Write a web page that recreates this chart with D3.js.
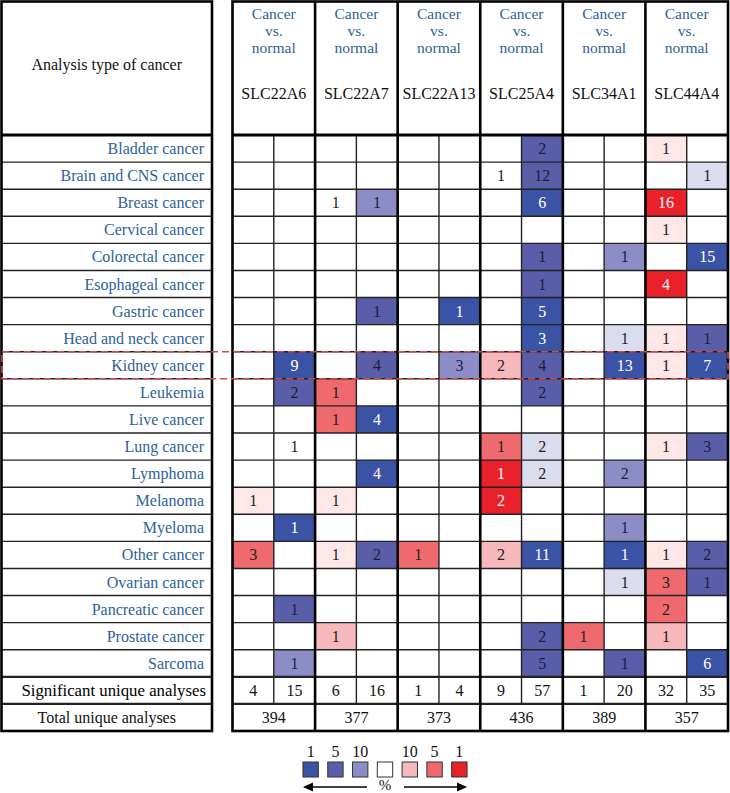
<!DOCTYPE html>
<html>
<head>
<meta charset="utf-8">
<script src="https://cdn.jsdelivr.net/npm/d3@7"></script>
<style>
  body { margin: 0; background: #fff; }
  text { font-family: "Liberation Serif", "DejaVu Serif", serif; }
</style>
</head>
<body>
<svg></svg>
<script>
const W = 730, H = 793
const genes = ["SLC22A6", "SLC22A7", "SLC22A13", "SLC25A4", "SLC34A1", "SLC44A4"]
const cancers = ["Bladder cancer", "Brain and CNS cancer", "Breast cancer", "Cervical cancer",
  "Colorectal cancer", "Esophageal cancer", "Gastric cancer", "Head and neck cancer",
  "Kidney cancer", "Leukemia", "Live cancer", "Lung cancer", "Lymphoma", "Melanoma",
  "Myeloma", "Other cancer", "Ovarian cancer", "Pancreatic cancer", "Prostate cancer", "Sarcoma"]
const highlight = "Kidney cancer"

// 12 columns per row: [gene1 over, gene1 under, gene2 over, ...]; cell = [count, grade]
const _ = null
const cells = [
  [_, _, _, _, _, _, _, [2,"b5"], _, _, [1,"r25"], _],
  [_, _, _, _, _, _, [1,"w"], [12,"b5"], _, _, _, [1,"b25"]],
  [_, _, [1,"w"], [1,"b10"], _, _, _, [6,"b1"], _, _, [16,"r1"], _],
  [_, _, _, _, _, _, _, _, _, _, [1,"r25"], _],
  [_, _, _, _, _, _, _, [1,"b5"], _, [1,"b10"], _, [15,"b1"]],
  [_, _, _, _, _, _, _, [1,"b5"], _, _, [4,"r1"], _],
  [_, _, _, [1,"b5"], _, [1,"b1"], _, [5,"b1"], _, _, _, _],
  [_, _, _, _, _, _, _, [3,"b1"], _, [1,"b25"], [1,"r25"], [1,"b5"]],
  [_, [9,"b1"], _, [4,"b5"], _, [3,"b10"], [2,"r10"], [4,"b5"], _, [13,"b1"], [1,"r25"], [7,"b1"]],
  [_, [2,"b5"], [1,"r5"], _, _, _, _, [2,"b5"], _, _, _, _],
  [_, _, [1,"r5"], [4,"b1"], _, _, _, _, _, _, _, _],
  [_, [1,"w"], _, _, _, _, [1,"r5"], [2,"b25"], _, _, [1,"r25"], [3,"b5"]],
  [_, _, _, [4,"b1"], _, _, [1,"r1"], [2,"b25"], _, [2,"b10"], _, _],
  [[1,"r25"], _, [1,"r25"], _, _, _, [2,"r1"], _, _, _, _, _],
  [_, [1,"b1"], _, _, _, _, _, _, _, [1,"b10"], _, _],
  [[3,"r5"], _, [1,"r25"], [2,"b5"], [1,"r5"], _, [2,"r10"], [11,"b1"], _, [1,"b1"], [1,"r25"], [2,"b5"]],
  [_, _, _, _, _, _, _, _, _, [1,"b25"], [3,"r5"], [1,"b5"]],
  [_, [1,"b5"], _, _, _, _, _, _, _, _, [2,"r5"], _],
  [_, _, [1,"r10"], _, _, _, _, [2,"b5"], [1,"r5"], _, [1,"r10"], _],
  [_, [1,"b10"], _, _, _, _, _, [5,"b5"], _, [1,"b5"], _, [6,"b1"]]
]
const significant = [4, 15, 6, 16, 1, 4, 9, 57, 1, 20, 32, 35]
const total = [394, 377, 373, 436, 389, 357]
const legendGrades = ["b1", "b5", "b10", "w", "r10", "r5", "r1"]
const legendLabels = ["1", "5", "10", "", "10", "5", "1"]

const grades = ["w", "b1", "b5", "b10", "b25", "r1", "r5", "r10", "r25"]
const fill = d3.scaleOrdinal(grades,
  ["#ffffff", "#3a53a4", "#5a5ea9", "#8c8dc7", "#dcdcef", "#e8212a", "#ee6a6e", "#f7b8bc", "#fde7e7"])
const ink = d3.scaleOrdinal(grades,
  ["#222", "#ffffff", "#1d1d3a", "#1d1d3a", "#222", "#ffffff", "#222", "#222", "#222"])
const blueText = "#2d6299"
const fs = 16

const svg = d3.select("svg").attr("width", W).attr("height", H)

const left = { x0: 1.5, x1: 212 }
const right = { x0: 232.5, x1: 728 }
const headTop = 1.5, headBottom = 135
const rowKeys = [...cancers, "sig", "total"]
const y = d3.scaleBand(rowKeys, [headBottom, 731])
const colKeys = d3.range(12)
const x = d3.scaleBand(colKeys, [right.x0, right.x1])
const xg = d3.scaleBand(genes, [right.x0, right.x1])
const mid = r => y(r) + y.bandwidth() / 2 + 5.5

// cell fills
cancers.forEach((c, i) => {
  cells[i].forEach((cell, j) => {
    if (!cell) return
    svg.append("rect")
      .attr("x", x(j)).attr("y", y(c))
      .attr("width", x.bandwidth()).attr("height", y.bandwidth())
      .attr("fill", fill(cell[1]))
    svg.append("text")
      .attr("x", x(j) + x.bandwidth() / 2).attr("y", mid(c))
      .attr("text-anchor", "middle").attr("font-size", fs)
      .attr("fill", ink(cell[1]))
      .text(cell[0])
  })
})

let line = (x1, y1, x2, y2, w, color) => {
  svg.append("line")
    .attr("x1", x1).attr("y1", y1).attr("x2", x2).attr("y2", y2)
    .attr("stroke", color || "#222").attr("stroke-width", w)
}

// horizontal row lines
rowKeys.forEach((r, i) => {
  if (i == 0) return
  let w = (r == "sig" || r == "total") ? 2.2 : 1.4
  line(left.x0, y(r), left.x1, y(r), w)
  line(right.x0, y(r), right.x1, y(r), w)
})

// sub-column lines (not in header, not in total row)
colKeys.forEach(j => {
  if (j % 2 == 1) line(x(j), headBottom, x(j), y("total"), 1.4)
})
// gene separators
genes.forEach((g, i) => {
  if (i > 0) line(xg(g), headTop, xg(g), y("total") + y.bandwidth(), 2.6, "#000")
})

// outer borders
let box = (x0, x1) => {
  svg.append("rect").attr("x", x0).attr("y", headTop)
    .attr("width", x1 - x0).attr("height", y("total") + y.bandwidth() - headTop)
    .attr("fill", "none").attr("stroke", "#000").attr("stroke-width", 2.6)
  line(x0, headBottom, x1, headBottom, 3, "#000")
}
box(left.x0, left.x1)
box(right.x0, right.x1)

// header
svg.append("text").attr("x", (left.x0 + left.x1) / 2).attr("y", 70)
  .attr("text-anchor", "middle").attr("font-size", fs).attr("fill", "#111")
  .text("Analysis type of cancer")
genes.forEach(g => {
  let cx = xg(g) + xg.bandwidth() / 2
  ;["Cancer", "vs.", "normal"].forEach((s, k) => {
    svg.append("text").attr("x", cx).attr("y", 18.5 + k * 17.3)
      .attr("text-anchor", "middle").attr("font-size", 15.5).attr("fill", blueText).text(s)
  })
  svg.append("text").attr("x", cx).attr("y", 99).attr("text-anchor", "middle")
    .attr("font-size", fs).attr("fill", "#111").text(g)
})

// row labels
cancers.forEach(c => {
  svg.append("text").attr("x", 204).attr("y", mid(c))
    .attr("text-anchor", "end").attr("font-size", fs).attr("fill", blueText).text(c)
})
svg.append("text").attr("x", 206).attr("y", mid("sig"))
  .attr("text-anchor", "end").attr("font-size", 16.8).attr("fill", "#000")
  .text("Significant unique analyses")
svg.append("text").attr("x", (left.x0 + left.x1) / 2).attr("y", mid("total"))
  .attr("text-anchor", "middle").attr("font-size", fs).attr("fill", "#111")
  .text("Total unique analyses")

significant.forEach((v, j) => {
  svg.append("text").attr("x", x(j) + x.bandwidth() / 2).attr("y", mid("sig"))
    .attr("text-anchor", "middle").attr("font-size", fs).attr("fill", "#111").text(v)
})
total.forEach((v, i) => {
  svg.append("text").attr("x", xg(genes[i]) + xg.bandwidth() / 2).attr("y", mid("total"))
    .attr("text-anchor", "middle").attr("font-size", fs).attr("fill", "#111").text(v)
})

// highlight box
svg.append("rect")
  .attr("x", 2).attr("y", y(highlight))
  .attr("width", right.x1 - 2).attr("height", y.bandwidth())
  .attr("fill", "none").attr("stroke", "#d0474c").attr("stroke-width", 1.6)
  .attr("stroke-dasharray", "7,4")

// legend
const lx = d3.scaleBand(legendGrades.map((d, i) => i), [298, 472]).paddingInner(0.38).paddingOuter(0.2)
legendGrades.forEach((g, i) => {
  svg.append("rect").attr("x", lx(i)).attr("y", 762)
    .attr("width", lx.bandwidth()).attr("height", 15)
    .attr("fill", fill(g)).attr("stroke", "#333").attr("stroke-width", 1)
  svg.append("text").attr("x", lx(i) + lx.bandwidth() / 2).attr("y", 757)
    .attr("text-anchor", "middle").attr("font-size", fs).attr("fill", "#111").text(legendLabels[i])
})
const ay = 787
line(lx(0) + 8, ay, 367, ay, 1.5, "#000")
line(404, ay, lx(6) + lx.bandwidth() - 8, ay, 1.5, "#000")
svg.append("path").attr("d", `M${lx(0)},${ay} l10,-4.5 l0,9 z`).attr("fill", "#000")
svg.append("path").attr("d", `M${lx(6) + lx.bandwidth()},${ay} l-10,-4.5 l0,9 z`).attr("fill", "#000")
svg.append("text").attr("x", 385).attr("y", 790).attr("text-anchor", "middle")
  .attr("font-size", 15).attr("fill", "#111").text("%")
</script>
</body>
</html>
